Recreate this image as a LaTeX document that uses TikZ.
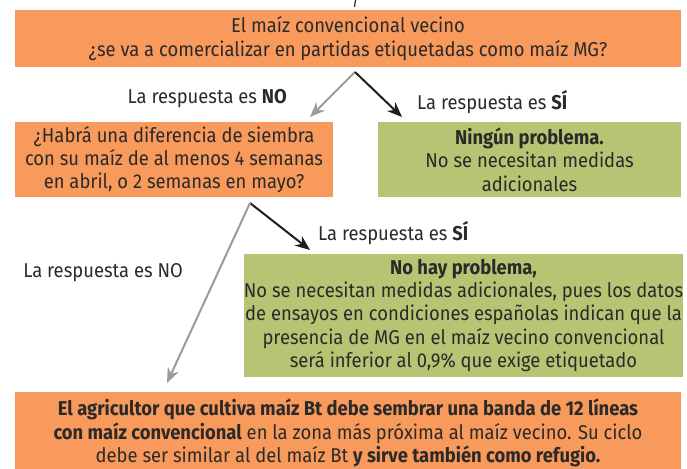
\documentclass[tikz,border=0pt]{standalone}
\usepackage{fontspec}
\setmainfont[FakeStretch=0.92]{Fira Sans}
\usetikzlibrary{arrows.meta}
\definecolor{orangebox}{HTML}{F79A5C}
\definecolor{greenbox}{HTML}{B6C474}
\definecolor{txt}{HTML}{2B2A29}
\definecolor{grayarrow}{HTML}{9B9B9B}
\definecolor{blackarrow}{HTML}{1E1E1E}
\tikzset{
  box/.style={inner sep=0pt, align=center, text=txt, font=\fontsize{20}{23.3}\selectfont},
  obox/.style={box, fill=orangebox},
  gbox/.style={box, fill=greenbox},
  lbl/.style={inner sep=0pt, text=txt, font=\fontsize{20}{23}\selectfont},
  noarrow/.style={draw=grayarrow, line width=2pt, -{Stealth[length=15pt,width=12pt]}},
  yesarrow/.style={draw=blackarrow, line width=2pt, -{Stealth[length=15pt,width=12pt]}}
}
\begin{document}
\begin{tikzpicture}[x=1pt,y=-1pt]
\useasboundingbox (0,0) rectangle (687,468);
\node[obox, minimum width=666pt, minimum height=57pt] (q1) at (348,38.5)
  {El maíz convencional vecino\\¿se va a comercializar en partidas etiquetadas como maíz MG?};
\node[obox, minimum width=318pt, minimum height=75pt] (q2) at (174,159.5)
  {¿Habrá una diferencia de siembra\\con su maíz de al menos 4 semanas\\en abril, o 2 semanas en mayo?};
\node[gbox, minimum width=303pt, minimum height=75pt] (g1) at (529.5,159.5)
  {\textbf{Ningún problema.}\\No se necesitan medidas\\adicionales};
\node[gbox, minimum width=435pt, minimum height=123pt] (g2) at (463.5,315.5)
  {\textbf{No hay problema,}\\No se necesitan medidas adicionales, pues los datos\\de ensayos en condiciones españolas indican que la\\presencia de MG en el maíz vecino convencional\\será inferior al 0,9\% que exige etiquetado};
\node[obox, minimum width=666pt, minimum height=82pt] (r) at (348,433)
  {\textbf{El agricultor que cultiva maíz Bt debe sembrar una banda de 12 líneas}\\\textbf{con maíz convencional} en la zona más próxima al maíz vecino. Su ciclo\\debe ser similar al del maíz Bt \textbf{y sirve también como refugio.}};
% top tick
\coordinate (t0) at (355.5,0);
\coordinate (t1) at (354.5,7);
\draw[draw=txt, line width=1.2pt] (t0) -- (t1);
% first decision
\coordinate (a1) at (355,72);
\coordinate (a1n) at (310,117);
\coordinate (a1y) at (402,117);
\draw[noarrow] (a1) -- (a1n);
\draw[yesarrow] (a1) -- (a1y);
\node[lbl, anchor=east] (l1) at (287,99) {La respuesta es \textbf{NO}};
\node[lbl, anchor=west] (l2) at (417,102) {La respuesta es \textbf{SÍ}};
% second decision
\coordinate (a2) at (250,203);
\coordinate (a2y) at (310,250);
\coordinate (a2n) at (167,383);
\draw[yesarrow] (a2) -- (a2y);
\draw[noarrow] (a2) -- (a2n);
\node[lbl, anchor=west] (l3) at (318,233) {La respuesta es \textbf{SÍ}};
\node[lbl, anchor=east] (l4) at (183,273) {La respuesta es NO};
\end{tikzpicture}
\end{document}
